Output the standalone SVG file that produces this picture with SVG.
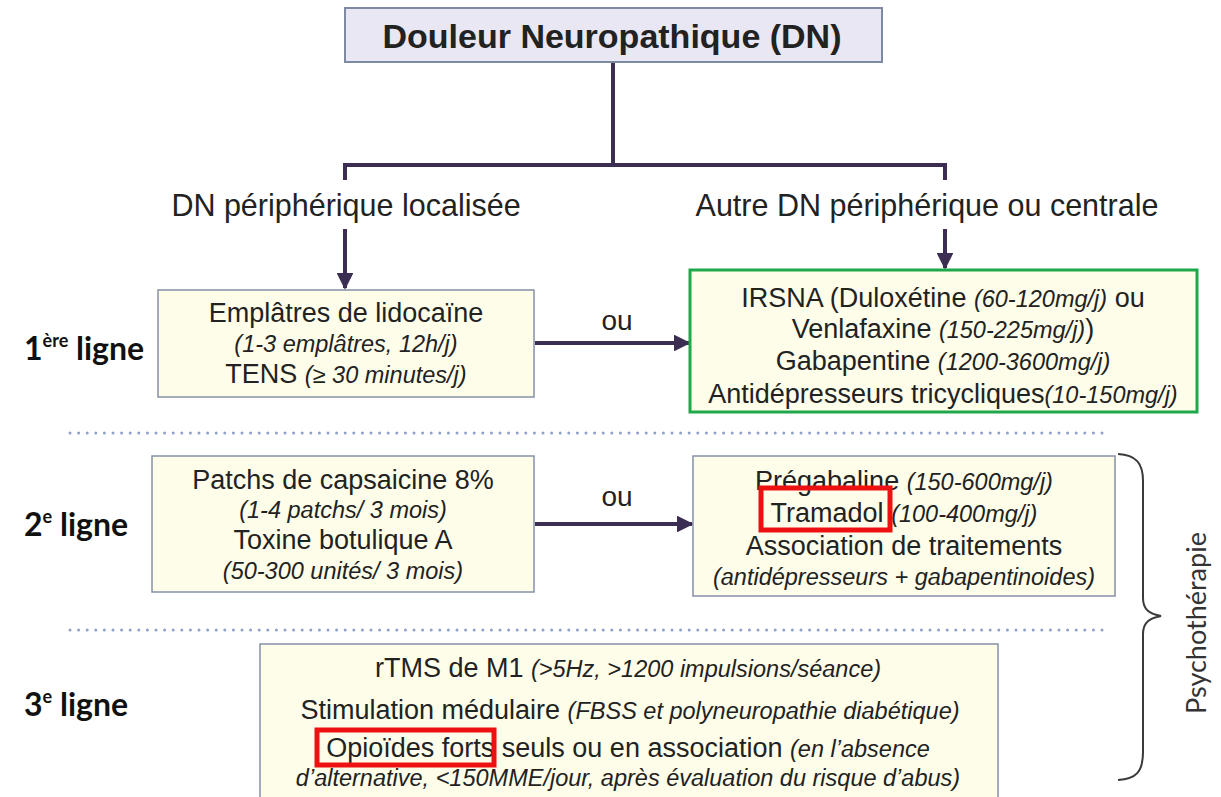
<svg xmlns="http://www.w3.org/2000/svg" width="1221" height="797" viewBox="0 0 1221 797">
  <style>
    .t { font-family: "Liberation Sans", Arial, sans-serif; fill: #222; text-anchor: middle; }
    .main { font-size: 27px; }
    .it { font-style: italic; font-size: 23.5px; }
    .branch { font-size: 30.5px; }
    .row { font-family: Lato, "Open Sans", sans-serif; font-weight: bold; font-size: 32px; fill: #111; }
    .box { fill: #fdfde9; stroke: #8590a6; stroke-width: 1.5; }
    .conn { stroke: #3b2e52; stroke-width: 4; fill: none; }
    .dots { stroke: #8fa0cc; stroke-width: 3; stroke-linecap: round; stroke-dasharray: 0 8.6; fill: none; }
    .hl { fill: none; stroke: #ee1111; stroke-width: 5; }
  </style>
  <defs>
    <marker id="arr" viewBox="0 0 10 10" refX="9" refY="5" markerWidth="4.2" markerHeight="4.2" orient="auto" markerUnits="strokeWidth">
      <path d="M0,0 L10,5 L0,10 Z" fill="#3b2e52"/>
    </marker>
  </defs>
  <rect width="1221" height="797" fill="#ffffff"/>

  <!-- connectors -->
  <g id="connectors">
    <path class="conn" d="M613,62 V165 M343,165 H947 M345,163 V180 M945,163 V180"/>
    <line class="conn" x1="345" y1="229" x2="345" y2="288" marker-end="url(#arr)"/>
    <line class="conn" x1="945" y1="229" x2="945" y2="268" marker-end="url(#arr)"/>
    <line class="conn" x1="535" y1="343" x2="689" y2="343" marker-end="url(#arr)"/>
    <text class="t" x="617" y="330" font-size="28">ou</text>
    <line class="conn" x1="535" y1="524" x2="692" y2="524" marker-end="url(#arr)"/>
    <text class="t" x="617" y="506" font-size="28">ou</text>
  </g>

  <!-- separators between lines of treatment -->
  <line class="dots" x1="70" y1="433" x2="1105" y2="433"/>
  <line class="dots" x1="70" y1="630" x2="1105" y2="630"/>

  <g id="title">
    <rect x="345" y="8" width="537" height="54" fill="#e9e7f3" stroke="#7e8aa2" stroke-width="2"/>
    <text class="t" x="612" y="48" font-size="34" font-weight="bold" fill="#1a1a1a">Douleur Neuropathique (DN)</text>
  </g>

  <g id="branch-localisee">
    <text class="t branch" x="346" y="216">DN périphérique localisée</text>
  </g>
  <g id="branch-autre">
    <text class="t branch" x="927" y="216">Autre DN périphérique ou centrale</text>
  </g>

  <g id="row-labels">
    <text class="row" x="24" y="360">1<tspan font-size="18" dy="-13">ère</tspan><tspan dy="13"> ligne</tspan></text>
    <text class="row" x="24" y="536">2<tspan font-size="18" dy="-13">e</tspan><tspan dy="13"> ligne</tspan></text>
    <text class="row" x="24" y="716">3<tspan font-size="18" dy="-13">e</tspan><tspan dy="13"> ligne</tspan></text>
  </g>

  <g id="l1-local">
    <rect class="box" x="158" y="290" width="376" height="107"/>
    <text class="t main" x="346" y="322">Emplâtres de lidocaïne</text>
    <text class="t it" x="346" y="352">(1-3 emplâtres, 12h/j)</text>
    <text class="t main" x="346" y="383">TENS <tspan class="it">(≥ 30 minutes/j)</tspan></text>
  </g>

  <g id="l1-autre">
    <rect x="690" y="270" width="507" height="142" fill="#fdfde9" stroke="#1fa84a" stroke-width="3"/>
    <text class="t main" x="943" y="307">IRSNA (Duloxétine <tspan class="it">(60-120mg/j)</tspan> ou</text>
    <text class="t main" x="943" y="338">Venlafaxine <tspan class="it">(150-225mg/j)</tspan>)</text>
    <text class="t main" x="943" y="370">Gabapentine <tspan class="it">(1200-3600mg/j)</tspan></text>
    <text class="t main" x="943" y="403">Antidépresseurs tricycliques<tspan class="it">(10-150mg/j)</tspan></text>
  </g>

  <g id="l2-local">
    <rect class="box" x="152" y="456" width="382" height="136"/>
    <text class="t main" x="343" y="489">Patchs de capsaicine 8%</text>
    <text class="t it" x="343" y="518">(1-4 patchs/ 3 mois)</text>
    <text class="t main" x="343" y="549">Toxine botulique A</text>
    <text class="t it" x="343" y="579">(50-300 unités/ 3 mois)</text>
  </g>

  <g id="l2-autre">
    <rect class="box" x="693" y="456" width="422" height="140"/>
    <text class="t main" x="904" y="490">Prégabaline <tspan class="it">(150-600mg/j)</tspan></text>
    <text class="t main" x="904" y="522">Tramadol <tspan class="it">(100-400mg/j)</tspan></text>
    <text class="t main" x="904" y="555">Association de traitements</text>
    <text class="t it" x="904" y="585">(antidépresseurs + gabapentinoides)</text>
    <rect class="hl" x="761" y="488" width="129" height="42"/>
  </g>

  <g id="l3">
    <rect class="box" x="260" y="644" width="738" height="160"/>
    <text class="t main" x="628" y="677">rTMS de M1 <tspan class="it">(&gt;5Hz, &gt;1200 impulsions/séance)</tspan></text>
    <text class="t main" x="630" y="719">Stimulation médulaire <tspan class="it">(FBSS et polyneuropathie diabétique)</tspan></text>
    <text class="t main" x="628" y="757">Opioïdes forts seuls ou en association <tspan class="it">(en l’absence</tspan></text>
    <text class="t it" x="628" y="786">d’alternative, &lt;150MME/jour, après évaluation du risque d’abus)</text>
    <rect class="hl" x="317" y="730" width="177" height="35"/>
  </g>

  <g id="psychotherapie">
    <path d="M1118,454 C1136,455 1143,463 1143,481 V598 C1143,610 1150,614 1161,616 C1150,618 1143,622 1143,634 V752 C1143,772 1136,779 1118,780" fill="none" stroke="#3a3a3a" stroke-width="2"/>
    <text x="1206" y="623" transform="rotate(-90 1206 623)" font-family="Lato, 'Open Sans', sans-serif" font-size="27" fill="#333" text-anchor="middle">Psychothérapie</text>
  </g>
</svg>
